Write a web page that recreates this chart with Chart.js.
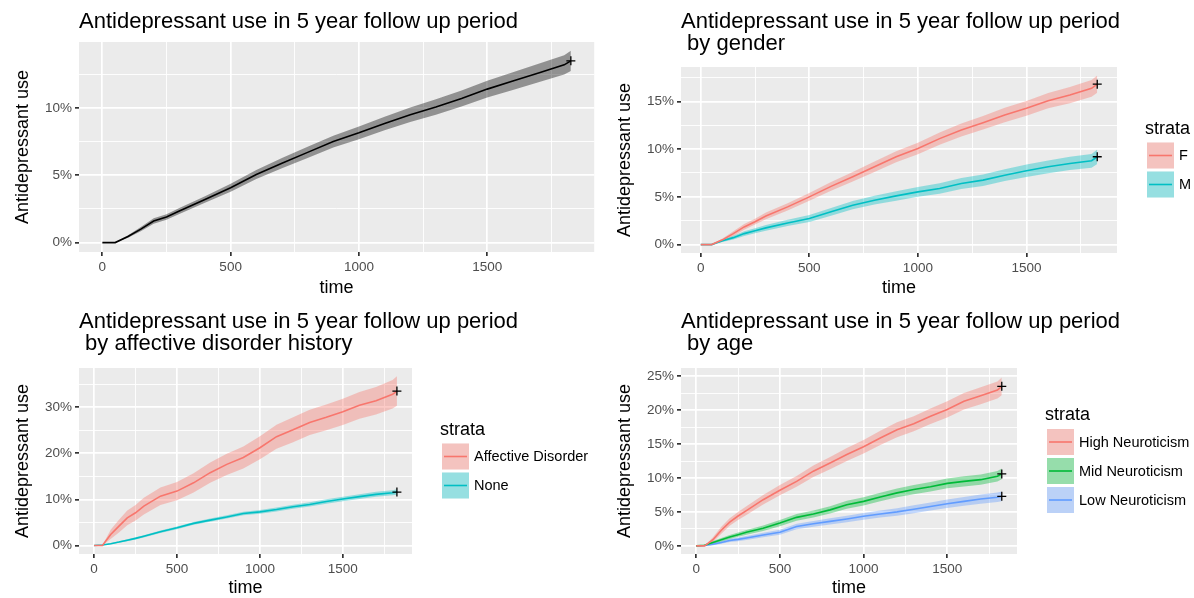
<!DOCTYPE html>
<html>
<head>
<meta charset="utf-8">
<title>Antidepressant use in 5 year follow up period</title>
<script src="https://cdn.jsdelivr.net/npm/chart.js@4.4.1/dist/chart.umd.min.js"></script>
<style>
    html, body { margin: 0; padding: 0; background: #fff; }
    #wrap { position: relative; width: 1194px; height: 598px; overflow: hidden; }
    .panel { position: absolute; }
</style>
</head>
<body>
<div id="wrap">
    <div class="panel" style="left:0;top:0;width:600px;height:300px"><canvas id="chart-all"></canvas></div>
    <div class="panel" style="left:600px;top:0;width:594px;height:300px"><canvas id="chart-gender"></canvas></div>
    <div class="panel" style="left:0;top:300px;width:600px;height:300px"><canvas id="chart-affective"></canvas></div>
    <div class="panel" style="left:600px;top:300px;width:594px;height:300px"><canvas id="chart-age"></canvas></div>
</div>
<script>
// follow up time (days)
var days = [0, 50, 100, 150, 200, 250, 300, 400, 500, 600, 700, 800, 900, 1000, 1100, 1200, 1300, 1400, 1500, 1600, 1700, 1800, 1826];

// cumulative antidepressant use (%) and half width of the confidence band (%)
var allUse  = [0, 0, 0.45, 1.0, 1.6, 1.9, 2.35, 3.2, 4.07, 5.06, 5.9, 6.7, 7.5, 8.15, 8.85, 9.5, 10.07, 10.7, 11.4, 12.0, 12.6, 13.2, 13.5];
var allBand = [0, 0, 0.1, 0.15, 0.2, 0.2, 0.22, 0.25, 0.3, 0.34, 0.38, 0.41, 0.44, 0.47, 0.5, 0.54, 0.57, 0.6, 0.63, 0.66, 0.69, 0.72, 0.75];

var femaleUse  = [0, 0, 0.5, 1.15, 1.85, 2.4, 3.0, 3.95, 5.0, 6.1, 7.1, 8.15, 9.2, 10.07, 11.1, 12.0, 12.76, 13.57, 14.27, 15.07, 15.66, 16.36, 16.8];
var femaleBand = [0, 0, 0.15, 0.25, 0.3, 0.3, 0.35, 0.38, 0.4, 0.45, 0.5, 0.55, 0.58, 0.6, 0.65, 0.68, 0.7, 0.75, 0.78, 0.8, 0.85, 0.88, 0.9];
var maleUse    = [0, 0, 0.4, 0.73, 1.15, 1.45, 1.75, 2.27, 2.73, 3.43, 4.13, 4.65, 5.1, 5.52, 5.87, 6.4, 6.75, 7.27, 7.73, 8.15, 8.5, 8.78, 9.2];
var maleBand   = [0, 0, 0.12, 0.2, 0.25, 0.27, 0.3, 0.33, 0.37, 0.4, 0.43, 0.46, 0.5, 0.52, 0.55, 0.57, 0.6, 0.62, 0.65, 0.67, 0.7, 0.72, 0.75];

var affectiveUse  = [0, 0, 2.4, 4.2, 6.0, 7.1, 8.55, 10.7, 11.8, 13.6, 15.8, 17.6, 19.1, 21.2, 23.6, 25.1, 26.7, 27.8, 29.0, 30.4, 31.4, 32.8, 33.5];
var affectiveBand = [0, 0, 1.0, 1.4, 1.6, 1.7, 1.8, 1.9, 2.0, 2.1, 2.2, 2.3, 2.4, 2.5, 2.6, 2.7, 2.75, 2.8, 2.85, 2.9, 3.0, 3.1, 3.2];
var noneUse       = [0, 0.1, 0.4, 0.75, 1.15, 1.55, 2.0, 2.97, 3.84, 4.8, 5.5, 6.2, 6.95, 7.3, 7.8, 8.4, 8.9, 9.55, 10.1, 10.6, 11.1, 11.45, 11.6];
var noneBand      = [0, 0.05, 0.1, 0.15, 0.2, 0.22, 0.25, 0.28, 0.3, 0.32, 0.34, 0.36, 0.38, 0.4, 0.42, 0.44, 0.46, 0.48, 0.5, 0.52, 0.54, 0.56, 0.58];

var highUse  = [0, 0, 0.9, 2.3, 3.5, 4.4, 5.2, 6.8, 8.2, 9.5, 11.0, 12.2, 13.45, 14.6, 15.9, 17.1, 18.0, 19.1, 20.1, 21.3, 22.1, 22.95, 23.5];
var highBand = [0, 0, 0.35, 0.5, 0.55, 0.6, 0.65, 0.7, 0.75, 0.8, 0.85, 0.9, 0.95, 1.0, 1.05, 1.1, 1.1, 1.15, 1.2, 1.2, 1.25, 1.25, 1.3];
var midUse   = [0, 0.1, 0.5, 0.9, 1.3, 1.65, 2.0, 2.6, 3.35, 4.2, 4.7, 5.3, 6.05, 6.55, 7.2, 7.8, 8.3, 8.7, 9.2, 9.5, 9.75, 10.25, 10.6];
var midBand  = [0, 0.05, 0.2, 0.25, 0.3, 0.32, 0.35, 0.4, 0.45, 0.5, 0.52, 0.55, 0.58, 0.6, 0.62, 0.65, 0.68, 0.7, 0.72, 0.74, 0.76, 0.78, 0.8];
var lowUse   = [0, 0.05, 0.25, 0.5, 0.8, 0.95, 1.15, 1.6, 2.0, 2.85, 3.25, 3.6, 3.95, 4.35, 4.7, 5.0, 5.4, 5.8, 6.2, 6.55, 6.9, 7.15, 7.3];
var lowBand  = [0, 0.03, 0.15, 0.2, 0.25, 0.28, 0.3, 0.33, 0.36, 0.4, 0.42, 0.45, 0.48, 0.5, 0.52, 0.55, 0.58, 0.6, 0.62, 0.65, 0.68, 0.7, 0.72];

// ticks (major ones carry a label, minor ones only a grid line)
var timeTicks  = [0, 250, 500, 750, 1000, 1250, 1500, 1750];
var timeLabels = ['0', '', '500', '', '1000', '', '1500', ''];
var yTicksAll   = [0, 2.5, 5, 7.5, 10, 12.5];
var yLabelsAll  = ['0%', '', '5%', '', '10%', ''];
var yTicksSex   = [0, 2.5, 5, 7.5, 10, 12.5, 15, 17.5];
var yLabelsSex  = ['0%', '', '5%', '', '10%', '', '15%', ''];
var yTicksAff   = [0, 5, 10, 15, 20, 25, 30, 35];
var yLabelsAff  = ['0%', '', '10%', '', '20%', '', '30%', ''];
var yTicksAge   = [0, 2.5, 5, 7.5, 10, 12.5, 15, 17.5, 20, 22.5, 25];
var yLabelsAge  = ['0%', '', '5%', '', '10%', '', '15%', '', '20%', '', '25%'];

var FAMILY = '"Liberation Sans", Arial, Helvetica, sans-serif';
Chart.defaults.font.family = FAMILY;

var RED = '#F8766D', TEAL = '#00BFC4', GREEN = '#00BA38', BLUE = '#619CFF';

function alpha(hex, a) {
    var n = parseInt(hex.slice(1), 16);
    return 'rgba(' + (n >> 16) + ',' + ((n >> 8) & 255) + ',' + (n & 255) + ',' + a + ')';
}

// band (upper, lower), line and censor mark of one stratum
function stratum(use, band, color, fillColor) {
    var last = days.length - 1;
    return [
        { data: days.map(function(d, i) { return {x: d, y: use[i] + band[i]} }),
          borderWidth: 0, pointRadius: 0, fill: '+1', backgroundColor: fillColor, order: 3 },
        { data: days.map(function(d, i) { return {x: d, y: Math.max(0, use[i] - band[i])} }),
          borderWidth: 0, pointRadius: 0, fill: false, order: 3 },
        { data: days.map(function(d, i) { return {x: d, y: use[i]} }),
          borderColor: color, borderWidth: 1.6, pointRadius: 0, fill: false, order: 2 },
        { data: [{x: days[last], y: use[last]}], showLine: false, pointStyle: 'cross',
          pointRadius: 4.5, borderColor: '#000', borderWidth: 1.3, order: 1 }
    ];
}

// grey panel, title left on the panel, ggplot style legend
var panelPlugin = {
    id: 'panel',
    beforeDraw: function(chart) {
        var a = chart.chartArea, ctx = chart.ctx;
        ctx.save();
        ctx.fillStyle = '#EBEBEB';
        ctx.fillRect(a.left, a.top, a.right - a.left, a.bottom - a.top);
        ctx.restore();
    },
    afterDraw: function(chart, args, opts) {
        var a = chart.chartArea, ctx = chart.ctx;
        ctx.save();
        ctx.fillStyle = '#000';
        ctx.textAlign = 'left';
        ctx.textBaseline = 'alphabetic';
        ctx.font = '22px ' + FAMILY;
        opts.title.forEach(function(t, i) { ctx.fillText(t, a.left, 28 + i * 22) });

        if (opts.legend) {
            var n = opts.legend.length;
            var keyTop = (a.top + a.bottom) / 2 - 1 - (22 + n * 29 - 3) / 2 + 22;
            var kx = a.right + 30;
            ctx.font = '18px ' + FAMILY;
            ctx.fillText('strata', a.right + 28, keyTop - 9);
            opts.legend.forEach(function(it, i) {
                var y = keyTop + i * 29;
                ctx.fillStyle = '#F2F2F2';
                ctx.fillRect(kx, y, 27, 26);
                ctx.fillStyle = it.fill;
                ctx.fillRect(kx, y, 27, 26);
                ctx.strokeStyle = it.line;
                ctx.lineWidth = 1.6;
                ctx.beginPath();
                ctx.moveTo(kx + 2, y + 13);
                ctx.lineTo(kx + 25, y + 13);
                ctx.stroke();
                ctx.fillStyle = '#000';
                ctx.font = '14.5px ' + FAMILY;
                ctx.textBaseline = 'middle';
                ctx.fillText(it.label, kx + 32, y + 13.5);
                ctx.textBaseline = 'alphabetic';
            });
        }
        ctx.restore();
    }
};

function axis(ticks, labels, min, max, title, size, titlePad) {
    return {
        type: 'linear',
        min: min,
        max: max,
        afterBuildTicks: function(s) { s.ticks = ticks.map(function(v) { return {value: v} }) },
        afterFit: function(s) { if (s.isHorizontal()) s.height = size; else s.width = size; },
        border: { display: false },
        grid: {
            color: '#FFFFFF',
            lineWidth: function(c) { return labels[c.index] ? 1.7 : 0.9 },
            tickColor: function(c) { return labels[c.index] ? '#333333' : 'rgba(0,0,0,0)' },
            tickLength: 4,
            drawTicks: true
        },
        ticks: {
            autoSkip: false,
            maxRotation: 0,
            padding: 3,
            color: '#4D4D4D',
            font: { size: 13.5 },
            callback: function(v, i) { return labels[i] }
        },
        title: {
            display: true,
            text: title,
            color: '#000',
            font: { size: 18 },
            padding: titlePad
        }
    };
}

function panel(id, cfg) {
    new Chart(document.getElementById(id).getContext('2d'), {
        type: 'line',
        data: { datasets: cfg.datasets },
        plugins: [panelPlugin],
        options: {
            responsive: true,
            maintainAspectRatio: false,
            devicePixelRatio: 1,
            animation: false,
            layout: { padding: cfg.padding },
            scales: {
                x: axis(timeTicks, timeLabels, -91, 1917, 'time', cfg.xh, {top: 0, bottom: 1}),
                y: axis(cfg.yTicks, cfg.yLabels, cfg.yMin, cfg.yMax, 'Antidepressant use', cfg.yw, {top: cfg.yTitlePad, bottom: 0})
            },
            plugins: {
                legend: { display: false },
                tooltip: { enabled: false },
                panel: { title: cfg.title, legend: cfg.legend }
            }
        }
    });
}

// Overall
panel('chart-all', {
    datasets: stratum(allUse, allBand, '#000000', 'rgba(0,0,0,0.38)'),
    padding: {top: 42, right: 2, left: 0, bottom: 0},
    yw: 79, xh: 48, yTitlePad: 12,
    yTicks: yTicksAll, yLabels: yLabelsAll, yMin: -0.7, yMax: 14.9,
    title: ['Antidepressant use in 5 year follow up period']
});

// Gender
panel('chart-gender', {
    datasets: stratum(femaleUse, femaleBand, RED, alpha(RED, 0.38))
        .concat(stratum(maleUse, maleBand, TEAL, alpha(TEAL, 0.38))),
    padding: {top: 67, right: 77, left: 0, bottom: 0},
    yw: 81, xh: 47, yTitlePad: 14,
    yTicks: yTicksSex, yLabels: yLabelsSex, yMin: -0.88, yMax: 18.6,
    title: ['Antidepressant use in 5 year follow up period', ' by gender'],
    legend: [
        {label: 'F', line: RED, fill: alpha(RED, 0.38)},
        {label: 'M', line: TEAL, fill: alpha(TEAL, 0.38)}
    ]
});

// Affective disorder history
panel('chart-affective', {
    datasets: stratum(affectiveUse, affectiveBand, RED, alpha(RED, 0.38))
        .concat(stratum(noneUse, noneBand, TEAL, alpha(TEAL, 0.38))),
    padding: {top: 68, right: 188, left: 0, bottom: 0},
    yw: 79, xh: 46, yTitlePad: 12,
    yTicks: yTicksAff, yLabels: yLabelsAff, yMin: -1.84, yMax: 38.5,
    title: ['Antidepressant use in 5 year follow up period', ' by affective disorder history'],
    legend: [
        {label: 'Affective Disorder', line: RED, fill: alpha(RED, 0.38)},
        {label: 'None', line: TEAL, fill: alpha(TEAL, 0.38)}
    ]
});

// Age / neuroticism
panel('chart-age', {
    datasets: stratum(highUse, highBand, RED, alpha(RED, 0.38))
        .concat(stratum(midUse, midBand, GREEN, alpha(GREEN, 0.38)))
        .concat(stratum(lowUse, lowBand, BLUE, alpha(BLUE, 0.38))),
    padding: {top: 68, right: 177, left: 0, bottom: 0},
    yw: 81, xh: 46, yTitlePad: 14,
    yTicks: yTicksAge, yLabels: yLabelsAge, yMin: -1.2, yMax: 26.2,
    title: ['Antidepressant use in 5 year follow up period', ' by age'],
    legend: [
        {label: 'High Neuroticism', line: RED, fill: alpha(RED, 0.38)},
        {label: 'Mid Neuroticism', line: GREEN, fill: alpha(GREEN, 0.38)},
        {label: 'Low Neuroticism', line: BLUE, fill: alpha(BLUE, 0.38)}
    ]
});
</script>
</body>
</html>
